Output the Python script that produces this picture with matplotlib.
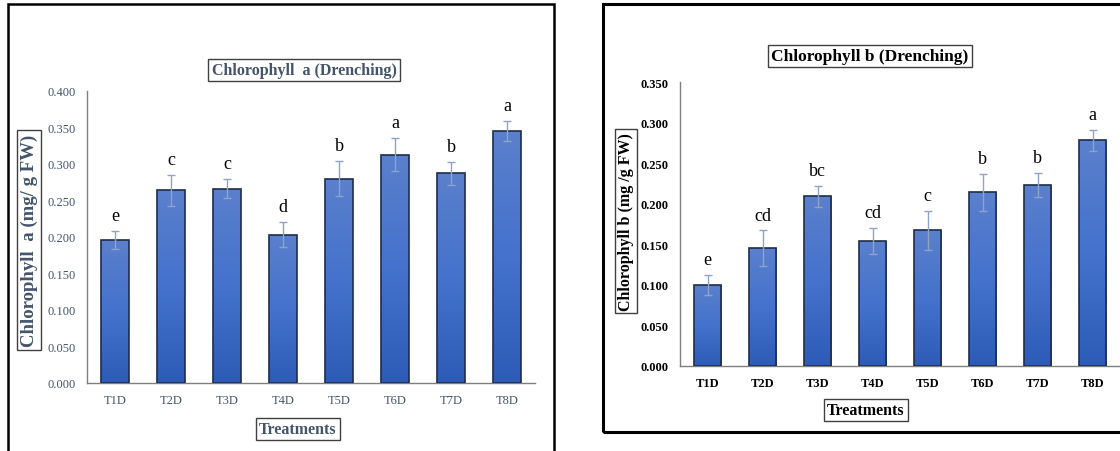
import matplotlib.pyplot as plt
import numpy as np
from matplotlib.patches import Rectangle
from matplotlib.colors import LinearSegmentedColormap

plt.rcParams['font.family'] = ['Liberation Serif', 'DejaVu Serif']

treatments = ["T1D", "T2D", "T3D", "T4D", "T5D", "T6D", "T7D", "T8D"]

chl_a = [0.196, 0.264, 0.266, 0.203, 0.280, 0.313, 0.287, 0.345]
chl_a_err = [0.012, 0.021, 0.013, 0.017, 0.024, 0.023, 0.016, 0.014]
chl_a_letters = ["e", "c", "c", "d", "b", "a", "b", "a"]

chl_b = [0.100, 0.145, 0.209, 0.154, 0.167, 0.214, 0.223, 0.278]
chl_b_err = [0.012, 0.022, 0.013, 0.016, 0.024, 0.023, 0.015, 0.013]
chl_b_letters = ["e", "cd", "bc", "cd", "c", "b", "b", "a"]

W, H = 1120, 452
fig = plt.figure(figsize=(W / 100, H / 100), dpi=100)

bar_cmap = LinearSegmentedColormap.from_list("barfill", ["#2d5cb8", "#4472cc", "#5b80cd"])
grad = np.linspace(0, 1, 256).reshape(-1, 1)


def fx(px):
    return px / W


def fy(py):
    return 1 - py / H


def gradient_bars(ax, values, errs, letters, ymax, err_col, letter_size):
    x = np.arange(len(values))
    bars = ax.bar(x, values, width=0.5, facecolor="none", edgecolor="#1f2d4a",
                  linewidth=1.2, zorder=3)
    for b in bars:
        x0, y0 = b.get_x(), b.get_y()
        im = ax.imshow(grad, cmap=bar_cmap, origin="lower", aspect="auto",
                       extent=[x0, x0 + b.get_width(), y0, y0 + b.get_height()],
                       zorder=2)
        im.set_clip_path(b)
    ax.errorbar(x, values, yerr=errs, fmt="none", ecolor=err_col, elinewidth=1.0,
                capsize=3, capthick=1.0, zorder=4)
    for xi, v, e, lab in zip(x, values, errs, letters):
        ax.annotate(lab, (xi, v + e), xytext=(0, 5), textcoords="offset points",
                    ha="center", va="bottom", fontsize=letter_size, color="black")
    ax.set_xlim(-0.5, len(values) - 0.5)
    ax.set_ylim(0, ymax)
    ax.set_xticks(x)
    ax.set_xticklabels(treatments)
    for s in ("top", "right"):
        ax.spines[s].set_visible(False)
    for s in ("left", "bottom"):
        ax.spines[s].set_color("#7f7f7f")
        ax.spines[s].set_linewidth(1.0)
    ax.tick_params(length=0, pad=8)
    ax.yaxis.set_major_formatter(plt.FormatStrFormatter("%.3f"))


def boxed(x, y, s, size, color, rot=0, weight="bold"):
    fig.text(fx(x), fy(y), s, ha="center", va="center", rotation=rot,
             fontsize=size, fontweight=weight, color=color,
             bbox=dict(boxstyle="square,pad=0.2", facecolor="white",
                       edgecolor="#404040", linewidth=1.0))


# outer frames of the two panels
fig.patches.append(Rectangle((fx(8), fy(460)), fx(554 - 8), (460 - 5) / H,
                             transform=fig.transFigure, fill=False,
                             edgecolor="black", linewidth=1.8))
fig.patches.append(Rectangle((fx(603), fy(433)), fx(1125 - 603), (433 - 5) / H,
                             transform=fig.transFigure, fill=False,
                             edgecolor="black", linewidth=2.2))

# chlorophyll a
slate = "#44546a"
ax1 = fig.add_axes([fx(87), fy(384), fx(535 - 87), (384 - 92) / H])
gradient_bars(ax1, chl_a, chl_a_err, chl_a_letters, 0.4, "#8fa3c6", 13)
ax1.set_yticks(np.arange(0, 0.401, 0.05))
ax1.tick_params(labelsize=9, labelcolor=slate)

boxed(304, 71, "Chlorophyll  a (Drenching)", 11.5, slate)
boxed(29, 241, "Chlorophyll  a (mg/ g FW)", 13.5, slate, rot=90)
boxed(298, 430, "Treatments", 11.5, slate)

# chlorophyll b
ax2 = fig.add_axes([fx(680), fy(367), fx(1120 - 680), (367 - 83) / H])
gradient_bars(ax2, chl_b, chl_b_err, chl_b_letters, 0.35, "#8fa3c6", 13)
ax2.set_yticks(np.arange(0, 0.351, 0.05))
ax2.tick_params(labelsize=9, labelcolor="black")
for t in ax2.get_xticklabels() + ax2.get_yticklabels():
    t.set_fontweight("bold")

boxed(870, 57, "Chlorophyll b (Drenching)", 12.5, "black")
boxed(626, 222, "Chlorophyll b (mg /g FW)", 11.5, "black", rot=90)
boxed(866, 411, "Treatments", 11.5, "black")

fig.savefig("out.png", dpi=100)
